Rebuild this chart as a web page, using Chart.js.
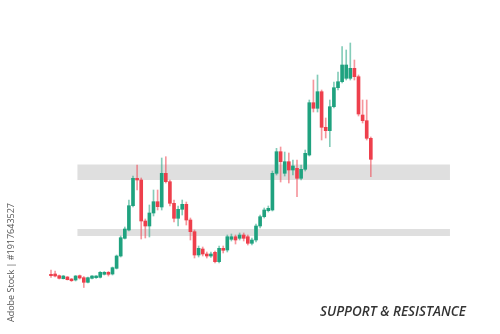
<!DOCTYPE html>
<html>
<head>
<meta charset="utf-8">
<script src="https://cdn.jsdelivr.net/npm/chart.js@4"></script>
<style>
  html, body { margin: 0; padding: 0; background: #ffffff; }
  #chart { display: block; }
</style>
</head>
<body>
<canvas id="chart" width="500" height="334"></canvas>
<script>
// Candle values (arbitrary price units)
const openPrices = [
    25.7, 26, 24.3, 21.3, 23, 21, 20, 24.3, 22.3, 17.7,
    21.7, 22.3, 22.7, 25.7, 27.7, 26, 31.7, 44, 61.7, 70,
    94.3, 121.7, 120, 79, 74, 87, 98.3, 93, 126.7, 118.3,
    96.7, 81.7, 90.7, 95.7, 80, 68.3, 45, 51, 46, 44,
    47.7, 38.3, 51.7, 50, 60.7, 63.3, 61.7, 65, 63.3, 56.7,
    60, 74, 83.3, 89.3, 90, 126.7, 148.3, 126.7, 138.3, 130,
    131.7, 121.7, 130.7, 145, 197.3, 191.7, 208.3, 172.7, 169.3, 193.3,
    212.3, 218.3, 221.7, 221.7, 231.7, 223.3, 185, 179.3, 161.7
];
const highPrices = [
    30, 29, 25, 24.5, 23.5, 21.5, 24.5, 25, 23.5, 23,
    24.5, 24.5, 28.5, 28.5, 28.5, 33, 45, 64, 73, 100,
    124, 135, 122, 81, 95, 110, 110, 142, 143.3, 120,
    100, 94, 100, 98, 82, 70, 54, 53, 48, 48,
    49, 54, 54, 65, 66, 65, 67, 67, 65, 62,
    76, 85, 92, 94, 129, 151.7, 153, 148, 147, 140,
    140, 135, 150, 200, 220, 225, 210, 182, 200, 218,
    228, 253.3, 250, 257, 240, 225, 200, 200, 163
];
const lowPrices = [
    22.5, 23, 21, 21, 20, 18.5, 19, 21, 12.5, 17,
    21, 21.5, 22, 25, 24, 25, 31, 43, 61, 69,
    93, 110, 61, 62, 63, 84, 90, 90, 117, 94,
    78, 74, 85, 75, 60, 42, 43, 44, 42, 42.5,
    37, 37, 47, 48, 59, 56, 60, 59, 55, 55,
    58, 72, 82, 88, 89, 125, 118, 124, 117, 125,
    103.3, 120, 129, 144, 188, 188, 160, 162, 153.3, 192,
    210, 217, 220, 220, 220, 184, 177, 160, 123.3
];
const closePrices = [
    24.3, 24, 21.7, 24, 20.3, 19.3, 24, 22, 17.7, 22.3,
    24, 24, 27.7, 27.7, 25.7, 32.3, 44, 62.3, 71, 94.3,
    121.7, 120, 79, 74, 87, 98.3, 93.3, 126.7, 118.3, 96.7,
    81.7, 90.7, 95.7, 80, 68.3, 45, 51.7, 46, 44, 46,
    38.3, 51.7, 49.7, 63.3, 63.3, 60, 65, 61.7, 56.7, 60,
    74, 83.3, 90, 91.7, 126.7, 148.3, 138.3, 138.3, 130, 134,
    121.7, 130.7, 146.7, 197.3, 191.7, 208.3, 172.7, 169.3, 193.3, 212.3,
    218.3, 235, 235, 231.7, 223.3, 186, 179.3, 161.7, 140.7
];

// Support / resistance zones (price from-to) and the candle index span they cover
const zoneLows = [64, 120];
const zoneHighs = [71, 135.5];
const zoneStart = 6.45;
const zoneEnd = 97.3;

const captionText = 'SUPPORT & RESISTANCE';
const creditText = 'Adobe Stock | #1917643527';

const upColor = '#1fa27f';
const downColor = '#ee3f4c';
const upWick = 'rgba(31, 162, 127, 0.55)';
const downWick = 'rgba(238, 63, 76, 0.55)';

const isUp = openPrices.map((o, i) => closePrices[i] >= o);

const bodyData = openPrices.map((o, i) => ({ x: i, y: [o, closePrices[i]] }));
const wickData = lowPrices.map((l, i) => ({ x: i, y: [l, highPrices[i]] }));

// Grey zones drawn under the candles
const zonesPlugin = {
    id: 'zones',
    beforeDatasetsDraw(chart) {
        const { ctx, scales: { x, y } } = chart;
        ctx.save();
        ctx.fillStyle = '#dfdfdf';
        zoneLows.forEach((low, i) => {
            const left = x.getPixelForValue(zoneStart);
            const right = x.getPixelForValue(zoneEnd);
            const top = y.getPixelForValue(zoneHighs[i]);
            const bottom = y.getPixelForValue(low);
            ctx.fillRect(left, top, right - left, bottom - top);
        });
        ctx.restore();
    }
};

// Caption bottom right and the vertical credit line
const textPlugin = {
    id: 'texts',
    afterDraw(chart) {
        const ctx = chart.ctx;
        ctx.save();
        ctx.font = 'italic 600 15px "Open Sans"';
        ctx.fillStyle = '#333333';
        ctx.textBaseline = 'alphabetic';
        const w = ctx.measureText(captionText).width;
        ctx.translate(320, 316);
        ctx.scale(146 / w, 1);
        ctx.fillText(captionText, 0, 0);
        ctx.restore();

        ctx.save();
        ctx.font = '9px "Open Sans"';
        ctx.fillStyle = '#555555';
        ctx.textBaseline = 'middle';
        ctx.translate(11, 322);
        ctx.rotate(-Math.PI / 2);
        ctx.fillText(creditText, 0, 0);
        ctx.restore();
    }
};

const chart = new Chart(document.getElementById('chart').getContext('2d'), {
    type: 'bar',
    data: {
        datasets: [{
            label: 'body',
            data: bodyData,
            backgroundColor: isUp.map(u => u ? upColor : downColor),
            barThickness: 3,
            minBarLength: 1,
            grouped: false
        }, {
            label: 'wick',
            data: wickData,
            backgroundColor: isUp.map(u => u ? upWick : downWick),
            barThickness: 1,
            grouped: false
        }]
    },
    options: {
        responsive: false,
        devicePixelRatio: 1,
        animation: false,
        layout: { padding: 0 },
        plugins: {
            legend: { display: false },
            tooltip: { enabled: false }
        },
        scales: {
            x: { type: 'linear', min: -12.44, max: 109.51, display: false, offset: false },
            y: { min: -34, max: 300, display: false }
        }
    },
    plugins: [zonesPlugin, textPlugin]
});
</script>
</body>
</html>
